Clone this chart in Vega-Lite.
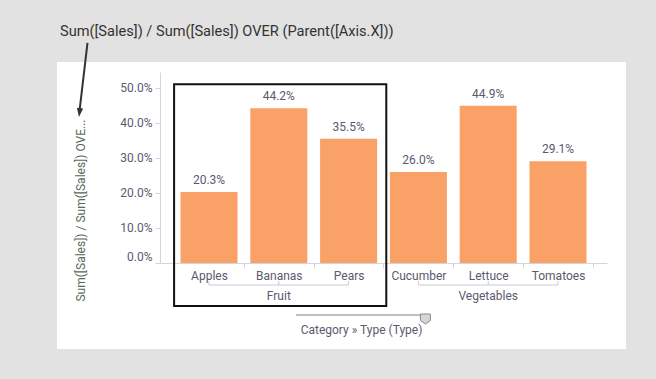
{
  "$schema": "https://vega.github.io/schema/vega-lite/v6.json",
  "width": 569,
  "height": 287,
  "autosize": "none",
  "padding": {"left": 57, "top": 62, "right": 30, "bottom": 30},
  "background": "#e2e2e2",
  "title": {
    "text": "Sum([Sales]) / Sum([Sales]) OVER (Parent([Axis.X]))",
    "anchor": "start",
    "frame": "group",
    "font": "Roboto",
    "fontSize": 14.6,
    "fontWeight": "normal",
    "color": "#333333",
    "dx": 3,
    "offset": 3
  },
  "config": {
    "view": {"fill": "white", "stroke": null},
    "font": "Roboto"
  },
  "datasets": {
    "sales": [
      {"Category": "Fruit", "Type": "Apples", "Share": 0.203},
      {"Category": "Fruit", "Type": "Bananas", "Share": 0.442},
      {"Category": "Fruit", "Type": "Pears", "Share": 0.355},
      {"Category": "Vegetables", "Type": "Cucumber", "Share": 0.260},
      {"Category": "Vegetables", "Type": "Lettuce", "Share": 0.449},
      {"Category": "Vegetables", "Type": "Tomatoes", "Share": 0.291}
    ],
    "groups": [
      {"Category": "Fruit", "first": "Apples", "mid": "Bananas", "last": "Pears"},
      {"Category": "Vegetables", "first": "Cucumber", "mid": "Lettuce", "last": "Tomatoes"}
    ]
  },
  "layer": [
    {
      "data": {"name": "sales"},
      "mark": {"type": "bar", "color": "#f9a166", "width": {"band": 0.817}},
      "encoding": {
        "x": {
          "field": "Type", "type": "nominal", "sort": null,
          "scale": {
            "domain": ["Apples", "Bananas", "Pears", "Cucumber", "Lettuce", "Tomatoes"],
            "range": [103, 550], "paddingInner": 0, "paddingOuter": 0.202
          },
          "axis": {
            "orient": "bottom", "offset": -86, "grid": false,
            "domainColor": "#d4d4de", "tickColor": "#d4d4de", "tickSize": 5,
            "tickBand": "extent", "labelPadding": 2, "labelAngle": 0,
            "labelFontSize": 12, "labelColor": "#5a5a6e", "labelFont": "Roboto",
            "title": "Category » Type (Type)", "titleX": 304, "titleY": 66,
            "titleBaseline": "middle", "titleFontSize": 12, "titleFontWeight": "normal",
            "titleColor": "#5a5a6e", "titleFont": "Roboto"
          }
        },
        "y": {
          "field": "Share", "type": "quantitative",
          "scale": {"domain": [0, 0.5457], "range": [201, 10], "nice": false, "zero": false},
          "axis": {
            "orient": "left", "offset": -103, "grid": false,
            "values": [0, 0.1, 0.2, 0.3, 0.4, 0.5], "format": ".1%",
            "domainColor": "#d4d4de", "tickColor": "#d4d4de", "tickSize": 5,
            "labelPadding": 3, "labelFlush": true,
            "labelFontSize": 12, "labelColor": "#5a5a6e", "labelFont": "Roboto",
            "title": "Sum([Sales]) / Sum([Sales]) OVE...", "titleX": -80, "titleY": 148,
            "titleBaseline": "middle", "titleAngle": -90, "titleFontSize": 12,
            "titleFontWeight": "normal", "titleColor": "#5a6660", "titleFont": "Roboto"
          }
        }
      }
    },
    {
      "data": {"name": "sales"},
      "mark": {"type": "text", "baseline": "alphabetic", "dy": -8, "fontSize": 12, "color": "#5a5a6e", "font": "Roboto"},
      "encoding": {
        "x": {"field": "Type", "type": "nominal", "sort": null},
        "y": {"field": "Share", "type": "quantitative"},
        "text": {"field": "Share", "type": "quantitative", "format": ".1%"}
      }
    },
    {
      "data": {"name": "groups"},
      "mark": {"type": "rule", "color": "#c9c9d6", "strokeWidth": 1, "yOffset": 22},
      "encoding": {
        "x": {"field": "first", "type": "nominal"},
        "x2": {"field": "last"},
        "y": {"datum": 0, "type": "quantitative"}
      }
    },
    {
      "data": {"name": "sales"},
      "mark": {"type": "tick", "orient": "vertical", "size": 4, "thickness": 1, "color": "#c9c9d6", "yOffset": 20, "opacity": 1},
      "encoding": {
        "x": {"field": "Type", "type": "nominal", "sort": null},
        "y": {"datum": 0, "type": "quantitative"}
      }
    },
    {
      "data": {"name": "groups"},
      "mark": {"type": "text", "baseline": "middle", "dy": 33, "fontSize": 12, "color": "#5a5a6e", "font": "Roboto"},
      "encoding": {
        "x": {"field": "mid", "type": "nominal"},
        "y": {"datum": 0, "type": "quantitative"},
        "text": {"field": "Category", "type": "nominal"}
      }
    },
    {
      "data": {"name": "groups"},
      "transform": [{"filter": "datum.Category === 'Fruit'"}],
      "mark": {"type": "rect", "filled": false, "color": "#111111", "strokeWidth": 2},
      "encoding": {
        "x": {"field": "first", "type": "nominal", "bandPosition": 0},
        "x2": {"field": "last", "bandPosition": 1.04},
        "y": {"datum": 0.5106, "type": "quantitative"},
        "y2": {"datum": -0.1229}
      }
    },
    {
      "data": {"values": [{}]},
      "mark": {"type": "rule", "color": "#aaaaaa", "strokeWidth": 1.5},
      "encoding": {
        "x": {"datum": "Bananas", "type": "nominal", "bandPosition": 0.745},
        "x2": {"datum": "Cucumber", "bandPosition": 0.6},
        "y": {"datum": -0.1486, "type": "quantitative"}
      }
    },
    {
      "data": {"values": [{}]},
      "mark": {"type": "point", "shape": "M-1,-1L1,-1L1,0.3L0,1L-1,0.3Z", "size": 100, "filled": true, "fill": "#d6d6d6", "stroke": "#888888", "strokeWidth": 1, "opacity": 1},
      "encoding": {
        "x": {"datum": "Cucumber", "type": "nominal", "bandPosition": 0.6},
        "y": {"datum": -0.16, "type": "quantitative"}
      }
    },
    {
      "data": {"values": [{}]},
      "mark": {"type": "rule", "color": "#333333", "strokeWidth": 2, "xOffset": -86.6, "x2Offset": -94.5},
      "encoding": {
        "x": {"datum": "Apples", "type": "nominal", "bandPosition": 0},
        "x2": {"datum": "Apples", "bandPosition": 0},
        "y": {"datum": 0.6286, "type": "quantitative"},
        "y2": {"datum": 0.4371}
      }
    },
    {
      "data": {"values": [{}]},
      "mark": {"type": "point", "shape": "M0,1L-0.7,-1L0.7,-1Z", "size": 81, "filled": true, "color": "#333333", "opacity": 1, "angle": 6.6, "xOffset": -94.6},
      "encoding": {
        "x": {"datum": "Apples", "type": "nominal", "bandPosition": 0},
        "y": {"datum": 0.43, "type": "quantitative"}
      }
    }
  ]
}
